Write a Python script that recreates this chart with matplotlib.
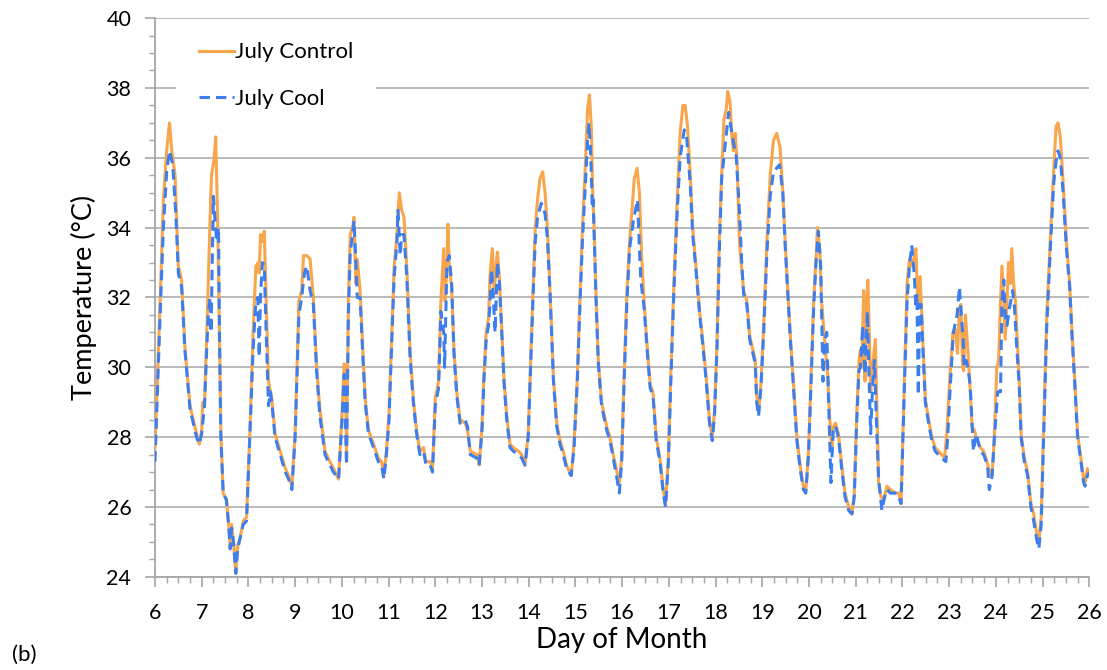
import matplotlib
matplotlib.use("Agg")
import matplotlib.pyplot as plt
from matplotlib.ticker import MultipleLocator

plt.rcParams['font.family'] = ['Lato', 'DejaVu Sans']

# Data (day of month, temperature in C)
control_day = [
    6.00, 6.06, 6.11, 6.18, 6.25, 6.31, 6.36, 6.43, 6.50, 6.57, 6.64, 6.75, 6.89, 6.95,
    7.00, 7.02, 7.06, 7.11, 7.18, 7.21, 7.26, 7.30, 7.34, 7.38, 7.41, 7.46, 7.53, 7.58,
    7.61, 7.64, 7.68, 7.73, 7.77, 7.82, 7.89, 7.96,
    8.03, 8.10, 8.16, 8.21, 8.23, 8.26, 8.30, 8.34, 8.38, 8.43, 8.50, 8.57, 8.68, 8.79,
    8.86, 8.93,
    9.00, 9.04, 9.08, 9.14, 9.18, 9.25, 9.32, 9.39, 9.46, 9.53, 9.64, 9.71, 9.82, 9.93,
    10.00, 10.05, 10.08, 10.10, 10.14, 10.18, 10.23, 10.26, 10.30, 10.33, 10.39, 10.45,
    10.50, 10.57, 10.68, 10.78, 10.85, 10.90, 10.96,
    11.01, 11.07, 11.12, 11.18, 11.21, 11.23, 11.28, 11.33, 11.39, 11.46, 11.53, 11.60,
    11.67, 11.75, 11.80, 11.89, 11.94,
    12.00, 12.07, 12.12, 12.18, 12.21, 12.25, 12.27, 12.30, 12.35, 12.40, 12.46, 12.53,
    12.64, 12.69, 12.75, 12.89, 12.94,
    13.00, 13.04, 13.09, 13.14, 13.17, 13.22, 13.26, 13.30, 13.33, 13.37, 13.42, 13.47,
    13.53, 13.60, 13.67, 13.78, 13.85, 13.92, 13.99,
    14.03, 14.09, 14.14, 14.19, 14.24, 14.30, 14.35, 14.40, 14.46, 14.53, 14.60, 14.67,
    14.74, 14.81, 14.91, 14.97,
    15.04, 15.10, 15.15, 15.21, 15.26, 15.30, 15.34, 15.37, 15.40, 15.44, 15.49, 15.56,
    15.67, 15.74, 15.81, 15.89, 15.94, 15.99,
    16.04, 16.10, 16.16, 16.21, 16.26, 16.32, 16.37, 16.42, 16.47, 16.53, 16.60, 16.66,
    16.73, 16.81, 16.88, 16.93, 16.99,
    17.04, 17.10, 17.17, 17.24, 17.30, 17.35, 17.40, 17.46, 17.51, 17.58, 17.66, 17.73,
    17.80, 17.87, 17.93, 17.98,
    18.03, 18.08, 18.13, 18.18, 18.23, 18.26, 18.31, 18.35, 18.38, 18.42, 18.46, 18.51,
    18.60, 18.67, 18.73, 18.80, 18.85, 18.88, 18.92, 18.97,
    19.03, 19.10, 19.17, 19.24, 19.31, 19.38, 19.44, 19.49, 19.55, 19.61, 19.67, 19.74,
    19.81, 19.88, 19.93, 19.99,
    20.04, 20.10, 20.15, 20.18, 20.23, 20.27, 20.35, 20.40, 20.44, 20.49, 20.52, 20.57,
    20.63, 20.70, 20.77, 20.85, 20.92, 20.97,
    21.02, 21.07, 21.10, 21.13, 21.17, 21.20, 21.22, 21.26, 21.29, 21.32, 21.36, 21.42,
    21.45, 21.49, 21.54, 21.60, 21.67, 21.74, 21.85, 21.92, 21.97,
    22.00, 22.05, 22.10, 22.15, 22.19, 22.24, 22.29, 22.33, 22.38, 22.43, 22.49, 22.56,
    22.63, 22.70, 22.77, 22.84, 22.90, 22.95,
    23.01, 23.08, 23.13, 23.18, 23.22, 23.25, 23.29, 23.31, 23.35, 23.40, 23.44, 23.49,
    23.54, 23.60, 23.67, 23.74, 23.81, 23.87, 23.92, 23.97,
    24.02, 24.06, 24.10, 24.13, 24.17, 24.20, 24.24, 24.27, 24.31, 24.34, 24.38, 24.42,
    24.45, 24.50, 24.54, 24.61, 24.68, 24.75, 24.81, 24.87, 24.92, 24.97,
    25.02, 25.09, 25.17, 25.24, 25.29, 25.33, 25.38, 25.44, 25.51, 25.58, 25.63, 25.69,
    25.75, 25.82, 25.88, 25.91, 25.96, 26.00,
]
control_temp = [
    27.7, 30.0, 31.9, 34.8, 36.2, 37.0, 36.2, 35.5, 32.9, 32.5, 30.6, 28.9, 28.1, 27.8,
    28.2, 29.0, 29.0, 31.0, 34.3, 35.5, 35.9, 36.6, 34.3, 31.0, 28.1, 26.4, 26.2, 25.5,
    24.9, 25.5, 25.0, 24.1, 24.9, 25.1, 25.6, 25.7,
    28.1, 31.0, 32.9, 33.0, 32.7, 33.8, 33.6, 33.9, 31.9, 29.6, 29.1, 28.1, 27.6, 27.1,
    26.9, 26.6,
    28.1, 30.0, 31.9, 32.2, 33.2, 33.2, 33.1, 32.0, 30.0, 28.8, 27.6, 27.4, 27.1, 26.8,
    28.6, 30.1, 29.8, 27.3, 31.9, 33.8, 34.0, 34.3, 32.4, 33.1, 32.2, 30.5,
    29.1, 28.2, 27.8, 27.4, 27.3, 26.9, 27.7,
    28.7, 31.0, 32.9, 33.8, 34.5, 35.0, 34.5, 34.3, 32.9, 30.5, 29.1, 28.2,
    27.6, 27.7, 27.3, 27.3, 27.1,
    29.1, 29.6, 31.9, 33.4, 31.9, 32.9, 34.1, 32.9, 32.3, 30.5, 29.3, 28.5,
    28.4, 28.2, 27.6, 27.5, 27.2,
    28.3, 29.7, 31.0, 31.4, 32.6, 33.4, 32.1, 32.9, 33.3, 32.6, 31.2, 29.7,
    28.6, 27.8, 27.7, 27.6, 27.5, 27.2, 28.1,
    29.7, 32.1, 34.0, 34.8, 35.4, 35.6, 35.0, 34.0, 32.1, 29.7, 28.4, 27.9,
    27.6, 27.2, 26.9, 27.8,
    29.7, 32.1, 34.0, 35.7, 37.4, 37.8, 36.9, 35.0, 34.0, 32.1, 30.2, 29.0,
    28.3, 28.0, 27.5, 27.0, 26.7, 27.4,
    29.7, 32.1, 33.6, 34.5, 35.4, 35.7, 35.0, 33.1, 31.9, 30.7, 29.5, 29.3,
    28.0, 27.4, 26.5, 26.1, 27.4,
    29.7, 32.1, 34.5, 36.7, 37.5, 37.5, 36.9, 35.5, 34.0, 32.9, 31.6, 30.7,
    29.7, 28.5, 28.0, 28.8,
    30.7, 33.6, 35.5, 37.1, 37.4, 37.9, 37.6, 36.6, 36.2, 36.7, 35.9, 33.6,
    32.2, 31.9, 30.9, 30.5, 30.2, 29.2, 28.7, 29.5,
    31.2, 33.6, 35.5, 36.5, 36.7, 36.3, 35.0, 33.6, 32.1, 30.7, 29.5, 28.0,
    27.2, 26.6, 26.4, 27.6,
    29.6, 31.9, 33.1, 34.0, 33.4, 31.9, 30.5, 29.8, 28.6, 27.6, 28.3, 28.4,
    28.1, 27.2, 26.4, 26.0, 25.8, 26.4,
    28.6, 30.2, 30.5, 30.0, 32.2, 29.6, 31.5, 32.5, 31.0, 29.3, 30.0, 30.8,
    29.1, 26.7, 26.3, 26.2, 26.6, 26.5, 26.4, 26.4, 26.1,
    27.6, 30.0, 32.4, 33.1, 32.9, 33.1, 33.4, 31.7, 32.6, 31.0, 29.1, 28.5,
    28.0, 27.7, 27.6, 27.5, 27.4, 28.1,
    29.6, 31.0, 31.1, 30.4, 31.7, 31.8, 30.0, 29.9, 31.5, 30.5, 29.6, 28.3,
    28.2, 27.9, 27.7, 27.6, 27.3, 27.0, 26.9, 28.1,
    30.0, 30.2, 31.9, 32.9, 31.9, 30.8, 31.9, 33.0, 32.4, 33.4, 32.4, 31.9,
    31.0, 29.6, 28.1, 27.4, 27.0, 26.1, 25.8, 25.3, 25.0, 25.7,
    28.1, 31.5, 33.8, 35.7, 36.9, 37.0, 36.6, 35.3, 33.6, 32.4, 31.0, 29.6,
    28.1, 27.4, 26.8, 26.7, 27.1, 27.0,
]

cool_day = [
    6.00, 6.06, 6.11, 6.18, 6.25, 6.31, 6.38, 6.45, 6.50, 6.57, 6.64, 6.75, 6.89, 6.95,
    7.00, 7.06, 7.11, 7.14, 7.18, 7.20, 7.25, 7.28, 7.32, 7.36, 7.38, 7.41, 7.46, 7.53,
    7.58, 7.61, 7.64, 7.68, 7.73, 7.77, 7.82, 7.89, 7.96,
    8.03, 8.10, 8.16, 8.20, 8.23, 8.26, 8.30, 8.34, 8.38, 8.43, 8.47, 8.50, 8.57, 8.68,
    8.79, 8.86, 8.93,
    9.00, 9.04, 9.08, 9.14, 9.20, 9.25, 9.32, 9.39, 9.46, 9.53, 9.64, 9.71, 9.82, 9.93,
    10.00, 10.05, 10.10, 10.14, 10.18, 10.23, 10.26, 10.30, 10.33, 10.39, 10.45, 10.50,
    10.57, 10.68, 10.78, 10.85, 10.90, 10.96,
    11.01, 11.07, 11.12, 11.18, 11.20, 11.25, 11.28, 11.33, 11.39, 11.46, 11.53, 11.60,
    11.67, 11.75, 11.80, 11.89, 11.94,
    12.00, 12.07, 12.12, 12.18, 12.20, 12.25, 12.30, 12.35, 12.40, 12.46, 12.53, 12.64,
    12.69, 12.75, 12.89, 12.94,
    13.00, 13.04, 13.09, 13.14, 13.17, 13.20, 13.22, 13.25, 13.28, 13.33, 13.37, 13.42,
    13.47, 13.53, 13.60, 13.67, 13.78, 13.85, 13.92, 13.99,
    14.03, 14.09, 14.14, 14.19, 14.27, 14.30, 14.35, 14.40, 14.46, 14.53, 14.60, 14.67,
    14.74, 14.81, 14.91, 14.97,
    15.04, 15.10, 15.15, 15.21, 15.26, 15.29, 15.33, 15.36, 15.38, 15.40, 15.44, 15.49,
    15.56, 15.67, 15.74, 15.81, 15.89, 15.94, 15.99,
    16.04, 16.10, 16.16, 16.24, 16.33, 16.37, 16.40, 16.47, 16.53, 16.60, 16.66, 16.73,
    16.81, 16.88, 16.93, 16.99,
    17.04, 17.10, 17.17, 17.24, 17.33, 17.38, 17.46, 17.51, 17.58, 17.66, 17.73, 17.80,
    17.87, 17.93, 17.98,
    18.03, 18.08, 18.13, 18.20, 18.28, 18.35, 18.40, 18.44, 18.51, 18.56, 18.60, 18.67,
    18.73, 18.80, 18.85, 18.88, 18.92, 18.97,
    19.03, 19.10, 19.17, 19.24, 19.37, 19.44, 19.49, 19.55, 19.61, 19.67, 19.74, 19.81,
    19.88, 19.93, 19.99,
    20.04, 20.10, 20.15, 20.20, 20.25, 20.30, 20.33, 20.38, 20.42, 20.47, 20.52, 20.57,
    20.63, 20.70, 20.77, 20.85, 20.92, 20.97,
    21.02, 21.07, 21.10, 21.15, 21.20, 21.25, 21.28, 21.32, 21.36, 21.40, 21.44, 21.49,
    21.56, 21.62, 21.67, 21.74, 21.85, 21.92, 21.97,
    22.00, 22.05, 22.10, 22.15, 22.20, 22.25, 22.29, 22.31, 22.34, 22.37, 22.40, 22.43,
    22.49, 22.56, 22.63, 22.70, 22.77, 22.84, 22.93, 22.97,
    23.01, 23.09, 23.17, 23.22, 23.26, 23.30, 23.32, 23.36, 23.40, 23.45, 23.52, 23.58,
    23.67, 23.74, 23.82, 23.86, 23.92, 23.97,
    24.04, 24.10, 24.13, 24.17, 24.20, 24.24, 24.29, 24.32, 24.36, 24.40, 24.45, 24.50,
    24.54, 24.61, 24.68, 24.75, 24.81, 24.87, 24.92, 24.97,
    25.02, 25.09, 25.17, 25.24, 25.29, 25.33, 25.38, 25.44, 25.51, 25.58, 25.63, 25.69,
    25.75, 25.82, 25.88, 25.91, 25.96, 26.00,
]
cool_temp = [
    27.3, 29.6, 31.5, 34.0, 35.6, 36.2, 35.8, 34.3, 32.7, 32.3, 30.5, 28.8, 28.0, 27.8,
    28.1, 28.9, 30.6, 31.5, 32.0, 31.0, 34.9, 34.3, 33.6, 34.0, 31.0, 28.0, 26.4, 26.2,
    25.4, 24.8, 25.4, 25.0, 24.1, 24.8, 25.1, 25.5, 25.6,
    28.0, 30.5, 31.9, 32.0, 30.3, 32.1, 33.0, 32.9, 31.0, 28.9, 29.3, 29.0, 28.0, 27.5,
    27.0, 26.8, 26.5,
    28.0, 29.8, 31.5, 32.0, 32.7, 32.9, 32.2, 31.8, 29.9, 28.6, 27.5, 27.3, 27.0, 26.8,
    28.4, 29.8, 27.2, 31.5, 33.3, 33.8, 34.2, 33.0, 32.0, 32.0, 30.3, 29.0,
    28.1, 27.7, 27.3, 27.2, 26.8, 27.6,
    28.5, 30.8, 32.6, 33.6, 34.5, 33.2, 33.8, 33.8, 32.6, 30.3, 29.0, 28.1,
    27.5, 27.6, 27.2, 27.2, 27.0,
    28.9, 29.4, 31.6, 31.0, 30.0, 33.0, 33.2, 32.4, 30.4, 29.2, 28.4, 28.5,
    28.3, 27.5, 27.4, 27.2,
    28.2, 29.6, 30.8, 31.2, 31.8, 32.8, 32.5, 31.8, 31.0, 33.0, 32.5, 31.1,
    29.6, 28.5, 27.7, 27.6, 27.5, 27.4, 27.2, 28.0,
    29.6, 31.9, 33.6, 34.3, 34.7, 34.6, 34.4, 33.7, 32.0, 29.6, 28.3, 27.8,
    27.5, 27.1, 26.9, 27.7,
    29.6, 31.9, 33.6, 35.2, 36.5, 37.0, 36.0, 34.6, 34.8, 33.9, 32.0, 30.1,
    28.9, 28.2, 27.9, 27.4, 26.8, 26.4, 27.3,
    29.5, 31.8, 33.4, 34.2, 34.8, 33.4, 32.5, 31.7, 30.6, 29.4, 29.2, 27.9,
    27.3, 26.4, 26.0, 27.3,
    29.5, 31.9, 34.2, 36.0, 36.8, 36.6, 35.2, 33.8, 32.8, 31.5, 30.6, 29.6,
    28.4, 27.9, 28.7,
    30.5, 33.3, 35.4, 36.3, 37.3, 36.7, 36.3, 36.1, 34.5, 33.0, 32.1, 31.8,
    30.8, 30.4, 30.1, 29.0, 28.6, 29.4,
    31.0, 33.3, 34.9, 35.6, 35.8, 35.0, 33.5, 32.0, 30.6, 29.4, 27.9, 27.1,
    26.5, 26.4, 27.5,
    29.4, 31.7, 33.0, 33.9, 32.9, 29.6, 30.7, 31.0, 29.0, 26.7, 28.3, 28.3,
    28.0, 27.1, 26.3, 25.9, 25.8, 26.3,
    28.4, 29.9, 30.0, 31.2, 29.8, 31.6, 30.0, 28.1, 29.4, 30.2, 28.6, 26.8,
    25.9, 26.3, 26.5, 26.4, 26.4, 26.3, 26.1,
    27.5, 29.8, 31.9, 32.9, 33.5, 32.7, 31.7, 32.1, 29.2, 31.8, 31.8, 30.8,
    29.0, 28.4, 27.9, 27.6, 27.5, 27.4, 27.3, 28.0,
    29.1, 31.0, 31.5, 32.3, 31.5, 30.8, 30.0, 30.2, 30.0, 29.5, 27.6, 28.1,
    27.6, 27.5, 27.2, 26.5, 26.9, 28.0,
    29.3, 29.3, 31.9, 32.5, 31.5, 31.2, 31.7, 31.9, 32.2, 31.7, 30.5, 29.5,
    28.0, 27.3, 26.9, 26.0, 25.6, 25.1, 24.8, 25.5,
    27.9, 31.2, 33.5, 35.3, 35.9, 36.2, 36.0, 35.0, 33.4, 32.3, 30.9, 29.5,
    28.0, 27.3, 26.7, 26.6, 26.9, 27.0,
]

day_ticks = list(range(6, 27))

fig = plt.figure(figsize=(11.07, 6.70), dpi=100)
ax = fig.add_axes([0.140, 0.139, 0.844, 0.834])

ax.plot(control_day, control_temp, color='#F9A54C', linewidth=2.2, label='July Control', zorder=3)
ax.plot(cool_day, cool_temp, color='#3D7EEE', linewidth=2.2, linestyle=(0, (3.4, 2.0)),
        label='July Cool', zorder=4)

ax.set_xlim(6, 26)
ax.set_ylim(24, 40)
ax.set_xticks(day_ticks)
ax.xaxis.set_minor_locator(MultipleLocator(0.25))
ax.yaxis.set_major_locator(MultipleLocator(2))
ax.yaxis.set_minor_locator(MultipleLocator(0.5))

ax.grid(axis='y', which='major', color='#B4B4B4', linewidth=1.3)
ax.set_axisbelow(True)

for side in ['top', 'right']:
    ax.spines[side].set_visible(False)
for side in ['left', 'bottom']:
    ax.spines[side].set_color('#A6A6A6')
    ax.spines[side].set_linewidth(1.3)

ax.tick_params(axis='both', which='major', length=7, width=1.2, color='#A6A6A6',
               labelsize=15.5)
ax.tick_params(axis='x', which='major', pad=12)
ax.tick_params(axis='y', which='major', pad=10)
ax.tick_params(axis='both', which='minor', length=4, width=1.0, color='#A6A6A6')

ax.set_xlabel('Day of Month', fontsize=20, labelpad=3)
ax.set_ylabel('Temperature (°C)', fontsize=19.5, labelpad=7)

leg = ax.legend(loc='upper left', bbox_to_anchor=(0.011, 1.016), fontsize=16,
                frameon=True, facecolor='white', edgecolor='none', framealpha=1,
                handlelength=1.6, handletextpad=0.05, labelspacing=1.2, borderpad=1.0)
leg.get_frame().set_boxstyle('square', pad=0)

fig.text(0.011, 0.013, '(b)', fontsize=16)

fig.savefig('out.png', dpi=100)
